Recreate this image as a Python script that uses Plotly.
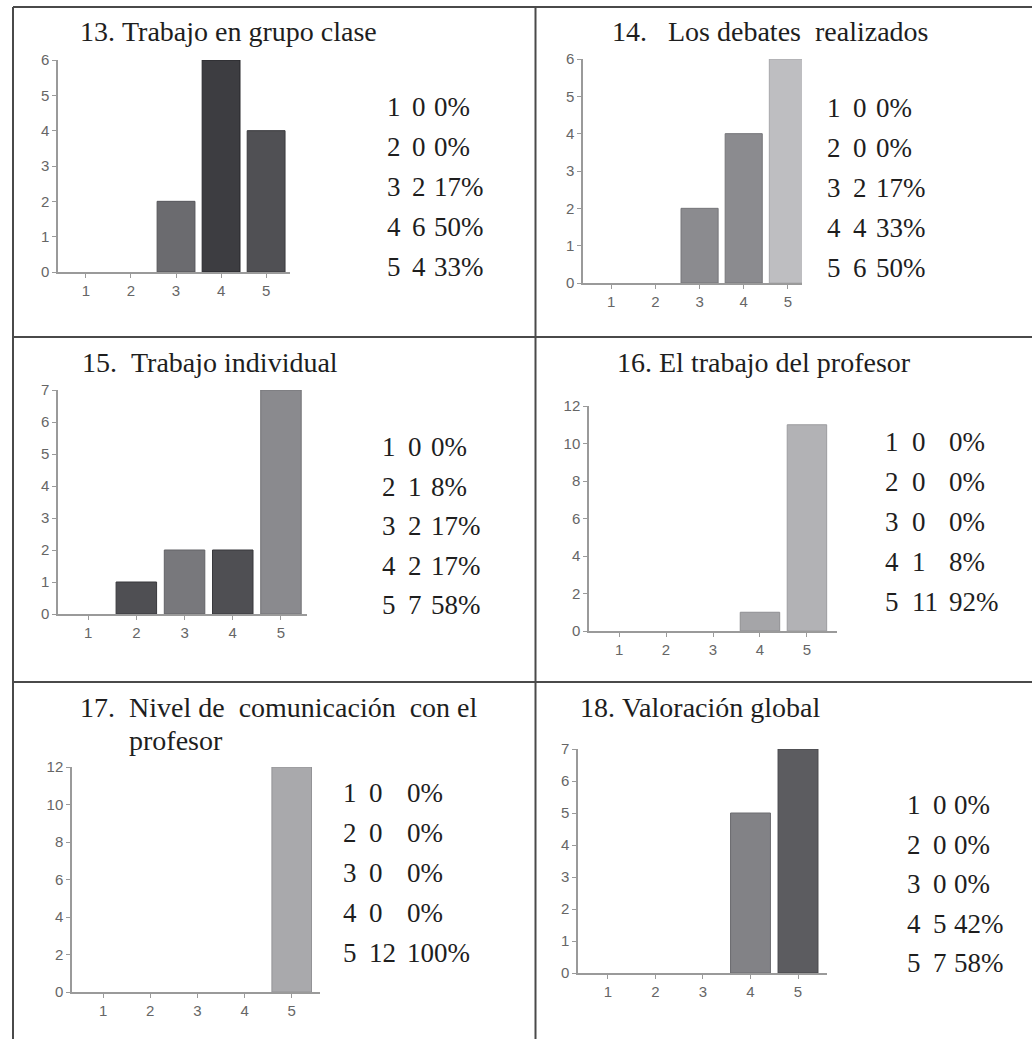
import plotly.graph_objects as go

W, H = 1032, 1039

# Survey results: answers 1-5 for each question
categories = [1, 2, 3, 4, 5]

titles = [
    "13.\u00a0Trabajo en grupo clase",
    "14.\u00a0\u00a0\u00a0Los debates\u00a0 realizados",
    "15.\u00a0\u00a0Trabajo individual",
    "16.\u00a0El trabajo del profesor",
    "17.\u00a0\u00a0Nivel de\u00a0 comunicación\u00a0 con el",
    "18.\u00a0Valoración global",
]
title_line2 = ["", "", "", "", "profesor", ""]

counts_13 = [0, 0, 2, 6, 4]
counts_14 = [0, 0, 2, 4, 6]
counts_15 = [0, 1, 2, 2, 7]
counts_16 = [0, 0, 0, 1, 11]
counts_17 = [0, 0, 0, 0, 12]
counts_18 = [0, 0, 0, 5, 7]

pct_13 = ["0%", "0%", "17%", "50%", "33%"]
pct_14 = ["0%", "0%", "17%", "33%", "50%"]
pct_15 = ["0%", "8%", "17%", "17%", "58%"]
pct_16 = ["0%", "0%", "0%", "8%", "92%"]
pct_17 = ["0%", "0%", "0%", "0%", "100%"]
pct_18 = ["0%", "0%", "0%", "42%", "58%"]

y_max = [6, 6, 7, 12, 12, 7]
y_step = [1, 1, 1, 2, 2, 1]

all_counts = [counts_13, counts_14, counts_15, counts_16, counts_17, counts_18]
all_pcts = [pct_13, pct_14, pct_15, pct_16, pct_17, pct_18]

# ---- styling ----
bar_colors = [
    ["#6b6b6f", "#6b6b6f", "#6b6b6f", "#3d3d41", "#505054"],
    ["#8b8b8f", "#8b8b8f", "#8b8b8f", "#8b8b8f", "#bebec1"],
    ["#4f4f53", "#4f4f53", "#78787c", "#4f4f53", "#8a8a8e"],
    ["#a5a5a8", "#a5a5a8", "#a5a5a8", "#a5a5a8", "#b2b2b5"],
    ["#a9a9ac", "#a9a9ac", "#a9a9ac", "#a9a9ac", "#a9a9ac"],
    ["#828286", "#828286", "#828286", "#828286", "#5c5c60"],
]

# plot areas in pixels: (left, right, bottom, top) and x ranges
areas = [
    (58, 290, 272, 60),
    (583, 802, 283, 59),
    (58, 307, 614, 390),
    (589, 837, 631, 406),
    (72, 320, 992, 767),
    (578, 827, 973, 749),
]
x_ranges = [
    [0.38, 5.53],
    [0.36, 5.32],
    [0.375, 5.54],
    [0.36, 5.64],
    [0.34, 5.60],
    [0.37, 5.61],
]
title_pos = [(78, 32), (610, 32), (80, 362), (615, 362), (78, 707), (578, 707)]
title2_pos = [None, None, None, None, (127, 740), None]

# summary list: left x, first row y, row step, column offsets
list_pos = [
    (385, 107, 40, 25, 47),
    (825, 108, 40, 26, 49),
    (380, 447, 39.5, 26, 49),
    (883, 442, 40, 27, 64),
    (341, 793, 40, 26, 64),
    (905, 805, 39.6, 26, 47),
]

SERIF = "Liberation Serif"
SANS = "Liberation Sans"
TEXT_COLOR = "#1e1e1e"
AXIS_COLOR = "#9a9a9a"


def px_x(v):
    return v / W


def px_y(v):
    return 1 - v / H


def darker(hex_color, amt=22):
    h = hex_color.lstrip("#")
    r, g, b = (max(0, int(h[i:i + 2], 16) - amt) for i in (0, 2, 4))
    return f"#{r:02x}{g:02x}{b:02x}"


fig = go.Figure()
layout = dict(
    width=W,
    height=H,
    margin=dict(l=0, r=0, t=0, b=0, pad=0, autoexpand=False),
    paper_bgcolor="white",
    plot_bgcolor="white",
    showlegend=False,
    bargap=0.16,
)

annotations = []
for i in range(6):
    n = i + 1
    xa = "x" if n == 1 else f"x{n}"
    ya = "y" if n == 1 else f"y{n}"
    left, right, bottom, top = areas[i]
    fig.add_trace(go.Bar(
        x=categories,
        y=all_counts[i],
        xaxis=xa,
        yaxis=ya,
        width=0.84,
        marker=dict(color=bar_colors[i],
                    line=dict(color=[darker(c) for c in bar_colors[i]],
                              width=[1 if v > 0 else 0 for v in all_counts[i]])),
        hoverinfo="skip",
    ))
    common_axis = dict(
        showgrid=False,
        zeroline=False,
        showline=True,
        linecolor=AXIS_COLOR,
        linewidth=1.5,
        ticks="outside",
        ticklen=4,
        tickwidth=1,
        tickcolor=AXIS_COLOR,
        tickfont=dict(family=SANS, size=15, color="#666666"),
        fixedrange=True,
        automargin=False,
        layer="above traces",
    )
    layout["xaxis" if n == 1 else f"xaxis{n}"] = dict(
        common_axis,
        domain=[px_x(left), px_x(right)],
        anchor=ya,
        range=x_ranges[i],
        tickmode="array",
        tickvals=categories,
        ticktext=[str(c) for c in categories],
    )
    layout["yaxis" if n == 1 else f"yaxis{n}"] = dict(
        common_axis,
        domain=[px_y(bottom), px_y(top)],
        anchor=xa,
        range=[0, y_max[i]],
        tick0=0,
        dtick=y_step[i],
    )

    # question title
    tx, ty = title_pos[i]
    annotations.append(dict(
        x=px_x(tx), y=px_y(ty), xref="paper", yref="paper",
        text=titles[i], showarrow=False, xanchor="left", yanchor="middle",
        font=dict(family=SERIF, size=28, color=TEXT_COLOR),
    ))
    if title2_pos[i]:
        tx2, ty2 = title2_pos[i]
        annotations.append(dict(
            x=px_x(tx2), y=px_y(ty2), xref="paper", yref="paper",
            text=title_line2[i], showarrow=False, xanchor="left", yanchor="middle",
            font=dict(family=SERIF, size=28, color=TEXT_COLOR),
        ))

    # answer / count / percent list
    lx, ly, step, c2, c3 = list_pos[i]
    for k, cat in enumerate(categories):
        row_y = ly + k * step
        for off, txt in ((0, str(cat)), (c2, str(all_counts[i][k])), (c3, all_pcts[i][k])):
            annotations.append(dict(
                x=px_x(lx + off), y=px_y(row_y), xref="paper", yref="paper",
                text=txt, showarrow=False, xanchor="left", yanchor="middle",
                font=dict(family=SERIF, size=27, color=TEXT_COLOR),
            ))

# table rules
LINE = dict(color="#4a4a4a", width=2)
shapes = []
for yy in (7, 337, 682):
    shapes.append(dict(type="line", xref="paper", yref="paper",
                       x0=px_x(13), x1=1, y0=px_y(yy), y1=px_y(yy), line=LINE))
for xx in (13, 535.5):
    shapes.append(dict(type="line", xref="paper", yref="paper",
                       x0=px_x(xx), x1=px_x(xx), y0=px_y(7), y1=0, line=LINE))

layout["annotations"] = annotations
layout["shapes"] = shapes
fig.update_layout(**layout)

fig.write_html("out.html")
